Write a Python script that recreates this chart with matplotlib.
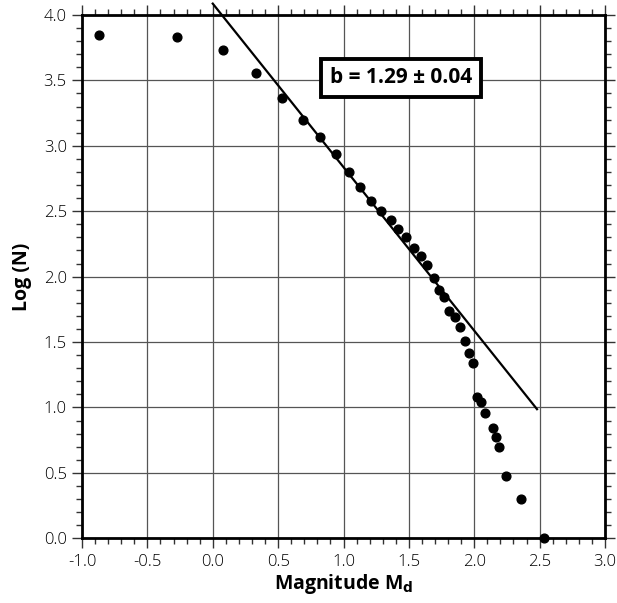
import matplotlib
matplotlib.use("Agg")
import matplotlib.pyplot as plt
import numpy as np
from matplotlib.ticker import MultipleLocator

plt.rcParams['font.family'] = ['Open Sans', 'DejaVu Sans']

magnitude = [-0.87, -0.27, 0.08, 0.33, 0.53, 0.69, 0.82, 0.94, 1.04, 1.13,
             1.21, 1.29, 1.36, 1.42, 1.48, 1.54, 1.59, 1.64, 1.69, 1.73,
             1.77, 1.81, 1.85, 1.89, 1.93, 1.96, 1.99, 2.02, 2.05, 2.08,
             2.14, 2.17, 2.19, 2.24, 2.36, 2.53]
log_n = [3.85, 3.835, 3.733, 3.556, 3.362, 3.196, 3.066, 2.94, 2.798, 2.683,
         2.581, 2.505, 2.433, 2.367, 2.304, 2.222, 2.158, 2.086, 1.987, 1.898,
         1.845, 1.740, 1.690, 1.613, 1.505, 1.415, 1.342, 1.079, 1.041, 0.954,
         0.845, 0.778, 0.699, 0.477, 0.301, 0.0]

fit_x = [0.0, 2.48]
fit_intercept = 4.087
fit_slope = -1.25
fit_label = "b = 1.29 ± 0.04"

fig = plt.figure(figsize=(6.17, 6.03), dpi=100)
ax = fig.add_axes([82/617, 1 - 538.3/603, (605 - 82)/617, (538.3 - 15)/603])

ax.set_xlim(-1.0, 3.0)
ax.set_ylim(0.0, 4.0)
ax.xaxis.set_major_locator(MultipleLocator(0.5))
ax.yaxis.set_major_locator(MultipleLocator(0.5))
ax.xaxis.set_minor_locator(MultipleLocator(0.1))
ax.yaxis.set_minor_locator(MultipleLocator(0.1))
ax.grid(True, which='major', color='#555555', linewidth=0.9)
ax.set_axisbelow(True)

ax.tick_params(which='major', direction='out', length=7, width=1.0,
               top=True, right=True, labeltop=False, labelright=False,
               labelsize=12, pad=4, color='#333333')
ax.tick_params(which='minor', direction='out', length=4, width=1.0,
               top=True, right=True, color='#333333')
for s in ax.spines.values():
    s.set_linewidth(2.0)
    s.set_zorder(5)

ax.xaxis.set_major_formatter(plt.FuncFormatter(lambda v, p: f"{v:.1f}"))
ax.yaxis.set_major_formatter(plt.FuncFormatter(lambda v, p: f"{v:.1f}"))
for lab in ax.get_xticklabels() + ax.get_yticklabels():
    lab.set_fontweight('light')

ax.plot(magnitude, log_n, 'o', color='black', markersize=6.3, zorder=4,
        clip_on=False)

fx = np.array(fit_x)
ax.plot(fx, fit_intercept + fit_slope * fx, color='black', linewidth=1.6,
        clip_on=False, zorder=4)

ax.text(1.44, 3.52, fit_label, fontsize=15, fontweight='bold',
        ha='center', va='center', zorder=6,
        bbox=dict(boxstyle='square,pad=0.42', facecolor='white',
                  edgecolor='black', linewidth=2.8))

ax.set_xlabel(r"Magnitude M$_\mathbf{d}$", fontsize=14, fontweight='bold',
              labelpad=2)
ax.set_ylabel("Log (N)", fontsize=14, fontweight='bold', labelpad=8)

fig.savefig("out.png", dpi=100)
